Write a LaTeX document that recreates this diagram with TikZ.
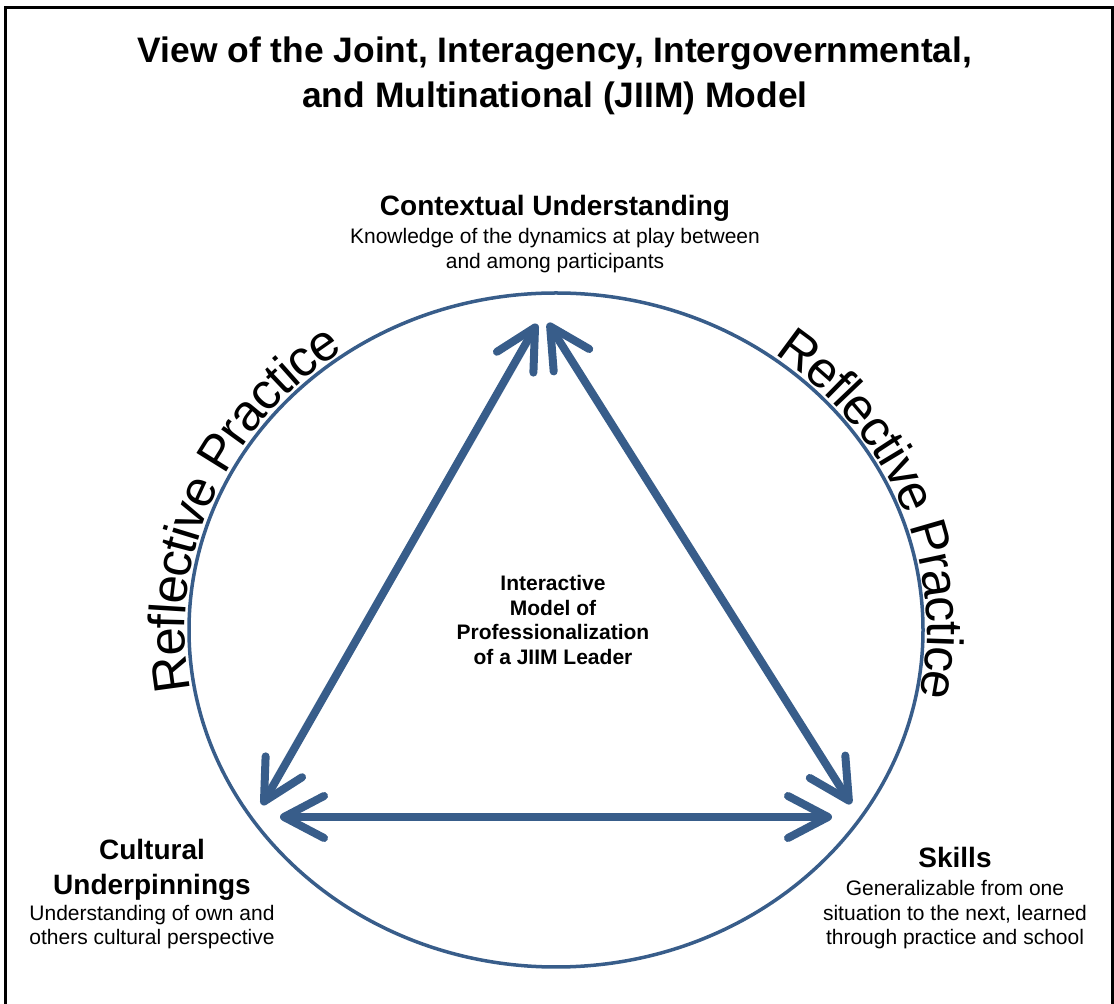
\documentclass[tikz,border=0pt]{standalone}
\usepackage{fontspec}
\setmainfont{Liberation Sans}
\usetikzlibrary{arrows.meta, positioning, decorations.text}

\definecolor{jiimblue}{RGB}{56,93,138}
\newcommand{\rpfont}{\fontsize{51}{51}\selectfont}

\begin{document}
\begin{tikzpicture}[x=1pt, y=1pt,
    head/.style={font=\bfseries\fontsize{28}{35}\selectfont, align=center, inner sep=0},
    desc/.style={font=\fontsize{21}{24.5}\selectfont, align=center, inner sep=0},
    link/.style={draw=jiimblue, line width=8pt,
        {Straight Barb[round, length=40pt, width=42pt]}-{Straight Barb[round, length=40pt, width=42pt]}},
    rim/.style={decorate, decoration={text along path, text align=left, raise=-24pt,
        text={|\rpfont|Reflective Practice}}}]

    \useasboundingbox (0,0) rectangle (1114,1004);

    % Frame
    \draw[line width=3pt] (5,-10) -- (5,996) -- (1112,996) -- (1112,-10);

    % Title
    \node[font=\bfseries\fontsize{35.4}{45}\selectfont, align=center, inner sep=0] (title) at (555,928)
        {View of the Joint, Interagency, Intergovernmental,\\and Multinational (JIIM) Model};

    % Circle and the text around it (text set on a wider ring, pulled in by raise)
    \coordinate (cen) at (556,374);
    \draw[jiimblue, line width=3.5pt] (cen) ellipse [x radius=367, y radius=337];
    \path[shift={(cen)}, rim] (190:395 and 365) arc [start angle=190, end angle=100, x radius=395, y radius=365];
    \path[shift={(cen)}, rim] (54:395 and 365) arc [start angle=54, end angle=-36, x radius=395, y radius=365];

    % Nodes
    \node[head] (ctxHead) at (555,796) {Contextual Understanding};
        \node[desc, below=7pt of ctxHead] (ctxDesc) {Knowledge of the dynamics at play between\\and among participants};
    \node[head] (culHead) at (152,134) {Cultural\\Underpinnings};
        \node[desc, below=4pt of culHead] (culDesc) {Understanding of own and\\others cultural perspective};
    \node[head] (sklHead) at (955,147) {Skills};
        \node[desc, below=13pt of sklHead] (sklDesc) {Generalizable from one\\situation to the next, learned\\through practice and school};
    \node[font=\bfseries\fontsize{21}{24.6}\selectfont, align=center, inner sep=0] (core) at (553,384)
        {Interactive\\Model of\\Professionalization\\of a JIIM Leader};

    % Arrow ends
    \coordinate (ctxL) at (537,680);
    \coordinate (ctxR) at (548,681);
    \coordinate (culT) at (262,199);
    \coordinate (culR) at (280,187);
    \coordinate (sklT) at (851,200);
    \coordinate (sklL) at (832,187);

    % Arrows
    \draw[link] (culT) -- (ctxL);
    \draw[link] (ctxR) -- (sklT);
    \draw[link] (culR) -- (sklL);

\end{tikzpicture}
\end{document}
